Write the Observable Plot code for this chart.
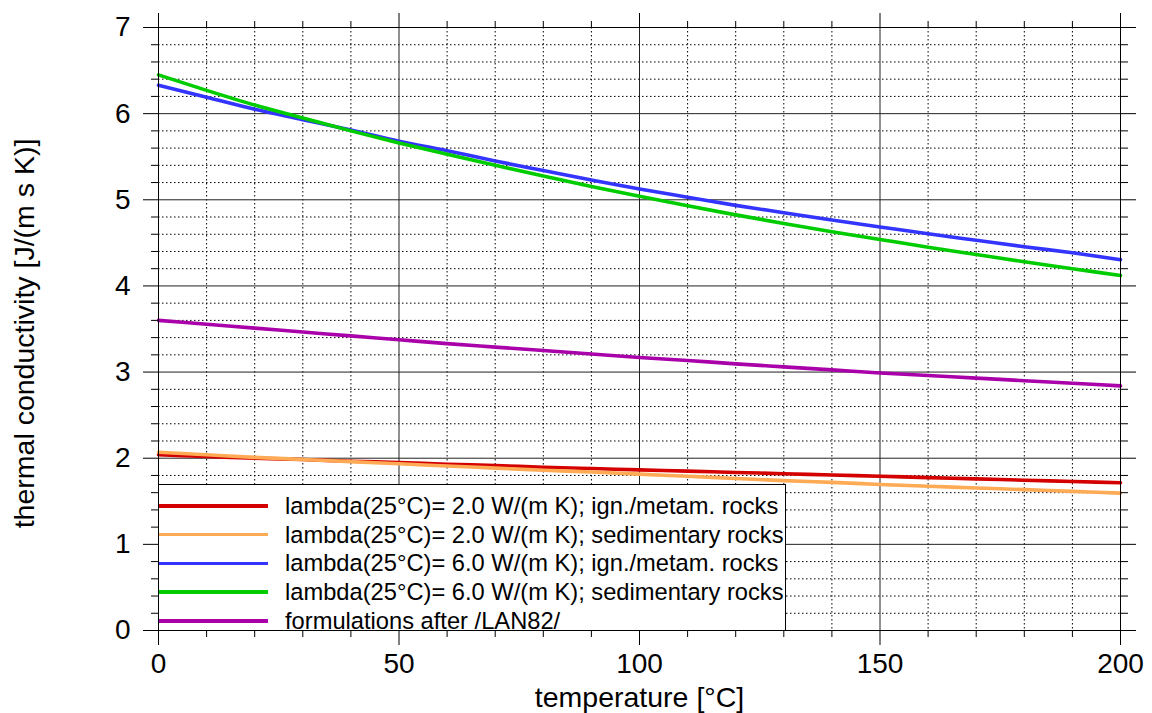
<!DOCTYPE html>
<html><head><meta charset="utf-8">
<script src="https://cdn.jsdelivr.net/npm/d3@7"></script>
<script src="https://cdn.jsdelivr.net/npm/@observablehq/plot@0.6"></script>
<style>
body{margin:0;background:#fff;font-family:"Liberation Sans",Arial,sans-serif;}
#wrap{position:relative;width:1152px;height:713px;overflow:hidden;}
#legend{position:absolute;left:158px;top:484px;width:628px;height:147px;box-sizing:border-box;border:1px solid #000;background:#fff;}
.sw{position:absolute;left:0;width:109px;height:3.5px;}
.lt{position:absolute;left:126px;font-size:23.7px;line-height:28px;white-space:nowrap;color:#000;}
</style></head><body><div id="wrap"></div>
<script>
// temperature [°C]
const temperature = [0,10,20,30,40,50,60,70,80,90,100,110,120,130,140,150,160,170,180,190,200];
// thermal conductivity [J/(m s K)]
const ignMetam2 = [2.04,2.02,2.00,1.985,1.965,1.95,1.93,1.915,1.895,1.88,1.865,1.85,1.835,1.82,1.805,1.79,1.775,1.76,1.745,1.73,1.715];
const sediment2 = [2.07,2.04,2.01,1.985,1.96,1.935,1.91,1.885,1.86,1.84,1.815,1.79,1.765,1.74,1.72,1.695,1.675,1.655,1.635,1.615,1.595];
const ignMetam6 = [6.33,6.19,6.05,5.93,5.81,5.68,5.57,5.45,5.34,5.23,5.125,5.03,4.935,4.85,4.765,4.685,4.605,4.53,4.455,4.385,4.305];
const sediment6 = [6.45,6.27,6.10,5.95,5.80,5.66,5.53,5.40,5.275,5.155,5.04,4.93,4.825,4.725,4.63,4.54,4.45,4.365,4.28,4.20,4.12];
const lan82     = [3.60,3.555,3.51,3.465,3.42,3.375,3.33,3.29,3.25,3.21,3.17,3.135,3.095,3.06,3.025,2.99,2.96,2.93,2.90,2.87,2.84];

const seriesNames = [
  "lambda(25°C)= 2.0 W/(m K); ign./metam. rocks",
  "lambda(25°C)= 2.0 W/(m K); sedimentary rocks",
  "lambda(25°C)= 6.0 W/(m K); ign./metam. rocks",
  "lambda(25°C)= 6.0 W/(m K); sedimentary rocks",
  "formulations after /LAN82/"
];
const seriesColors = ["#d40000","#ffaa55","#3434ff","#00cc00","#aa00aa"];
const seriesValues = [ignMetam2, sediment2, ignMetam6, sediment6, lan82];

const xMajorTicks = [0,50,100,150,200];
const xMinorTicks = [10,20,30,40,60,70,80,90,110,120,130,140,160,170,180,190];
const yMajorTicks = [0,1,2,3,4,5,6,7];
const yMinorTicks = d3.range(0,36).map(i => +(i*0.2).toFixed(1)).filter(v => v % 1 !== 0 && v < 7);

const rows = [];
seriesValues.forEach((vals, s) => vals.forEach((v, i) => rows.push({t: temperature[i], k: v, s})));

const TICKFONT = 28;
const TITLEFONT = 28.5;
const chart = Plot.plot({
  width: 1152, height: 713,
  marginLeft: 158, marginRight: 32, marginTop: 27, marginBottom: 83,
  style: {fontFamily: '"Liberation Sans", Arial, sans-serif', color: "#000", background: "#fff"},
  x: {domain: [0,200]},
  y: {domain: [0,7]},
  marks: [
    Plot.ruleY(yMinorTicks, {stroke: "#000", strokeWidth: 1, strokeDasharray: "1.5,2.5"}),
    Plot.ruleX(xMinorTicks, {stroke: "#000", strokeWidth: 1, strokeDasharray: "1.5,2.5"}),
    Plot.ruleY(yMajorTicks, {stroke: "#222", strokeWidth: 1}),
    Plot.ruleX(xMajorTicks, {stroke: "#222", strokeWidth: 1}),
    ...seriesValues.map((_, s) => Plot.line(rows.filter(d => d.s === s), {x: "t", y: "k", stroke: seriesColors[s], strokeWidth: 3.6, curve: "monotone-x"})),
    Plot.frame({stroke: "#000", strokeWidth: 1}),
    Plot.axisY(yMajorTicks, {anchor: "left", tickSize: 15, tickPadding: 13, fontSize: TICKFONT, label: null, tickFormat: d => String(d)}),
    Plot.axisY(yMinorTicks, {anchor: "left", tickSize: 7, label: null, tickFormat: () => ""}),
    Plot.axisY(yMajorTicks, {anchor: "right", tickSize: 15, label: null, tickFormat: () => ""}),
    Plot.axisY(yMinorTicks, {anchor: "right", tickSize: 7, label: null, tickFormat: () => ""}),
    Plot.axisX(xMajorTicks, {anchor: "bottom", tickSize: 15, tickPadding: 8, fontSize: TICKFONT, label: null, tickFormat: d => String(d)}),
    Plot.axisX(xMinorTicks, {anchor: "bottom", tickSize: 7, label: null, tickFormat: () => ""}),
    Plot.axisX(xMajorTicks, {anchor: "top", tickSize: 15, label: null, tickFormat: () => ""}),
    Plot.axisX(xMinorTicks, {anchor: "top", tickSize: 7, label: null, tickFormat: () => ""}),
    Plot.text(["temperature [°C]"], {frameAnchor: "bottom", text: d => d, dy: 76, lineAnchor: "bottom", textAnchor: "middle", fontSize: TITLEFONT, fill: "#000"}),
    Plot.text(["thermal conductivity [J/(m s K)]"], {frameAnchor: "left", text: d => d, rotate: -90, dx: -124.5, dy: 4.5, lineAnchor: "bottom", textAnchor: "middle", fontSize: TITLEFONT, fill: "#000"})
  ]
});
const wrap = document.getElementById("wrap");
wrap.appendChild(chart);

const legend = document.createElement("div");
legend.id = "legend";
seriesNames.forEach((name, i) => {
  const cy = 21 + i * 28.7;
  const sw = document.createElement("div");
  sw.className = "sw";
  sw.style.top = (cy - 1.75) + "px";
  sw.style.background = seriesColors[i];
  legend.appendChild(sw);
  const tx = document.createElement("div");
  tx.className = "lt";
  tx.style.top = (cy - 14) + "px";
  tx.textContent = name;
  legend.appendChild(tx);
});
wrap.appendChild(legend);
</script>
</body></html>
